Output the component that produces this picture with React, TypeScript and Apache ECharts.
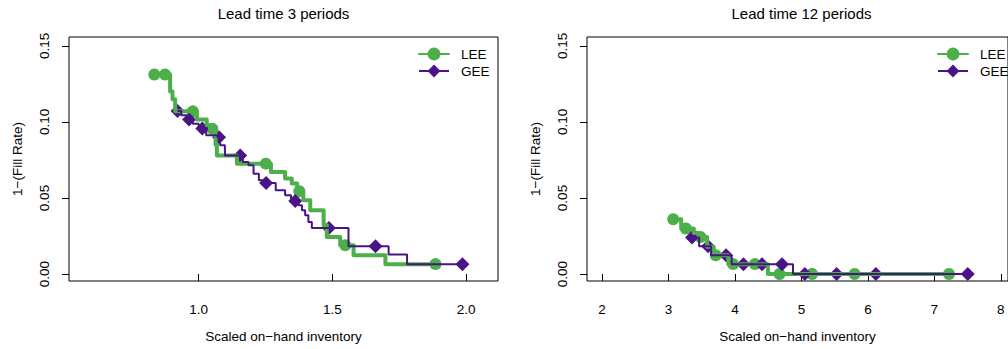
import React, { useEffect, useRef } from "react";
import * as echarts from "echarts";

const PANEL_TITLES = ["Lead time 3 periods", "Lead time 12 periods"];
const SERIES_NAMES = ["LEE", "GEE"];
const X_NAME = "Scaled on\u2212hand inventory";
const Y_NAME = "1\u2212(Fill Rate)";
const X_TICKS_3 = [1.0, 1.5, 2.0];
const X_TICKS_12 = [2, 3, 4, 5, 6, 7, 8];
const Y_TICKS = [0, 0.05, 0.1, 0.15];

// Lead time 3 periods: step curves of 1 - fill rate against scaled inventory
const lee3Steps: [number, number][] = [
  [0.834, 0.1312], [0.893, 0.12], [0.902, 0.115], [0.912, 0.107],
  [0.993, 0.1016], [1.03, 0.0978], [1.042, 0.0955], [1.063, 0.085],
  [1.068, 0.078], [1.143, 0.0726], [1.27, 0.0671], [1.323, 0.0628],
  [1.348, 0.0595], [1.368, 0.0544], [1.391, 0.0485], [1.417, 0.0419],
  [1.467, 0.032], [1.479, 0.0243], [1.529, 0.0189], [1.579, 0.0123],
  [1.698, 0.0065], [1.885, 0.0065],
];
const lee3Points: [number, number][] = [
  [0.834, 0.1312], [0.874, 0.1312], [0.978, 0.107], [1.051, 0.0955],
  [1.251, 0.0726], [1.376, 0.0544], [1.548, 0.0189], [1.885, 0.0065],
];
const gee3Steps: [number, number][] = [
  [0.921, 0.1072], [0.935, 0.1045], [0.955, 0.1016], [0.978, 0.0989],
  [1.0, 0.0957], [1.028, 0.0912], [1.07, 0.09], [1.08, 0.0847],
  [1.098, 0.078], [1.165, 0.0737], [1.186, 0.0715], [1.205, 0.066],
  [1.225, 0.0616], [1.245, 0.0599], [1.288, 0.0551], [1.323, 0.0518],
  [1.345, 0.048], [1.373, 0.0452], [1.386, 0.0419], [1.398, 0.0386],
  [1.41, 0.0342], [1.423, 0.0303], [1.56, 0.0182], [1.71, 0.0128],
  [1.779, 0.0065], [1.986, 0.0065],
];
const gee3Points: [number, number][] = [
  [0.921, 0.1072], [0.964, 0.1016], [1.0135, 0.0957], [1.076, 0.09],
  [1.155, 0.078], [1.252, 0.0599], [1.361, 0.048], [1.487, 0.0303],
  [1.661, 0.0182], [1.986, 0.0065],
];

// Lead time 12 periods
const lee12Steps: [number, number][] = [
  [3.07, 0.036], [3.19, 0.0299], [3.38, 0.027], [3.45, 0.0243],
  [3.58, 0.018], [3.68, 0.0123], [3.9, 0.0065], [4.495, 0], [7.22, 0],
];
const lee12Points: [number, number][] = [
  [3.07, 0.036], [3.26, 0.0299], [3.48, 0.0243], [3.71, 0.0123],
  [3.97, 0.0065], [4.3, 0.0065], [4.67, 0], [5.16, 0], [5.8, 0], [7.22, 0],
];
const gee12Steps: [number, number][] = [
  [3.353, 0.024], [3.46, 0.0182], [3.64, 0.0123], [3.95, 0.0065],
  [4.873, 0], [7.502, 0],
];
const gee12Points: [number, number][] = [
  [3.353, 0.024], [3.595, 0.0182], [3.866, 0.0123], [4.127, 0.0065],
  [4.407, 0.0065], [4.707, 0.0065], [5.051, 0], [5.529, 0], [6.12, 0],
  [7.502, 0],
];

const FONT = "'Liberation Sans', Arial, Helvetica, sans-serif";
const GREEN = "#4daf4a";
const PURPLE = "#4a1486";
const BLACK = "#000000";

const GRIDS = [
  { left: 69, top: 37, width: 429, height: 244 },
  { left: 587, top: 37, width: 429, height: 244 },
];
const X_RANGES: [number, number][] = [
  [0.515, 2.119],
  [1.773, 8.108],
];
const Y_RANGE: [number, number] = [-0.0046, 0.1559];

function xAxis(gridIndex: number, ticks: number[], digits: number) {
  return {
    type: "value",
    gridIndex,
    min: X_RANGES[gridIndex][0],
    max: X_RANGES[gridIndex][1],
    name: X_NAME,
    nameLocation: "middle",
    nameGap: 48,
    nameTextStyle: { fontFamily: FONT, fontSize: 13.5, color: BLACK },
    axisLine: { show: false },
    axisTick: {
      show: true,
      inside: false,
      length: 7,
      customValues: ticks,
      lineStyle: { color: BLACK, width: 1 },
    },
    axisLabel: {
      show: true,
      margin: 21,
      customValues: ticks,
      formatter: (v: number) => v.toFixed(digits),
      fontFamily: FONT,
      fontSize: 13.5,
      color: BLACK,
    },
    splitLine: { show: false },
  };
}

function yAxis(gridIndex: number) {
  return {
    type: "value",
    gridIndex,
    min: Y_RANGE[0],
    max: Y_RANGE[1],
    name: Y_NAME,
    nameLocation: "middle",
    nameGap: 45,
    nameTextStyle: { fontFamily: FONT, fontSize: 13.5, color: BLACK },
    axisLine: { show: false },
    axisTick: {
      show: true,
      inside: false,
      length: 7,
      customValues: Y_TICKS,
      lineStyle: { color: BLACK, width: 1 },
    },
    axisLabel: {
      show: true,
      rotate: 90,
      margin: 18,
      customValues: Y_TICKS,
      formatter: (v: number) => v.toFixed(2),
      fontFamily: FONT,
      fontSize: 13.5,
      color: BLACK,
    },
    splitLine: { show: false },
  };
}

function panelSeries(
  idx: number,
  leeSteps: [number, number][],
  leePts: [number, number][],
  geeSteps: [number, number][],
  geePts: [number, number][]
) {
  const common = { xAxisIndex: idx, yAxisIndex: idx, silent: true };
  return [
    {
      ...common,
      type: "line",
      name: SERIES_NAMES[0],
      data: leeSteps,
      step: "end",
      symbol: "circle",
      showSymbol: false,
      lineStyle: { color: GREEN, width: 4, join: "round", cap: "round" },
      itemStyle: { color: GREEN },
    },
    {
      ...common,
      type: "scatter",
      name: SERIES_NAMES[0] + " markers",
      data: leePts,
      symbol: "circle",
      symbolSize: 12,
      itemStyle: { color: GREEN, opacity: 1 },
    },
    {
      ...common,
      type: "line",
      name: SERIES_NAMES[1],
      data: geeSteps,
      step: "end",
      symbol: "diamond",
      showSymbol: false,
      lineStyle: { color: PURPLE, width: 2 },
      itemStyle: { color: PURPLE },
    },
    {
      ...common,
      type: "scatter",
      name: SERIES_NAMES[1] + " markers",
      data: geePts,
      symbol: "diamond",
      symbolSize: 14,
      itemStyle: { color: PURPLE, opacity: 1 },
    },
  ];
}

export default function App() {
  const ref = useRef<HTMLDivElement>(null);

  useEffect(() => {
    if (!ref.current) return;
    const chart = echarts.init(ref.current, undefined, { renderer: "svg" });
    const legendLefts = [418, 937];
    chart.setOption({
      animation: false,
      backgroundColor: "#ffffff",
      title: PANEL_TITLES.map((t, i) => ({
        text: t,
        left: GRIDS[i].left + GRIDS[i].width / 2,
        top: 6,
        padding: 0,
        textAlign: "center",
        textStyle: {
          fontFamily: FONT,
          fontSize: 15,
          fontWeight: "normal",
          color: BLACK,
        },
      })),
      legend: legendLefts.map((left) => ({
        data: SERIES_NAMES,
        orient: "vertical",
        left,
        top: 47,
        padding: 0,
        itemWidth: 30,
        itemHeight: 16,
        itemGap: 3,
        selectedMode: false,
        textStyle: {
          fontFamily: FONT,
          fontSize: 13.5,
          color: BLACK,
          padding: [0, 0, 0, 7],
        },
      })),
      grid: GRIDS.map((g) => ({
        ...g,
        show: true,
        borderColor: BLACK,
        borderWidth: 1,
        backgroundColor: "transparent",
      })),
      xAxis: [xAxis(0, X_TICKS_3, 1), xAxis(1, X_TICKS_12, 0)],
      yAxis: [yAxis(0), yAxis(1)],
      series: [
        ...panelSeries(0, lee3Steps, lee3Points, gee3Steps, gee3Points),
        ...panelSeries(1, lee12Steps, lee12Points, gee12Steps, gee12Points),
      ],
    });
    return () => chart.dispose();
  }, []);

  return (
    <div
      ref={ref}
      style={{
        position: "absolute",
        left: 0,
        top: 0,
        width: 1008,
        height: 349,
        background: "#ffffff",
      }}
    />
  );
}
